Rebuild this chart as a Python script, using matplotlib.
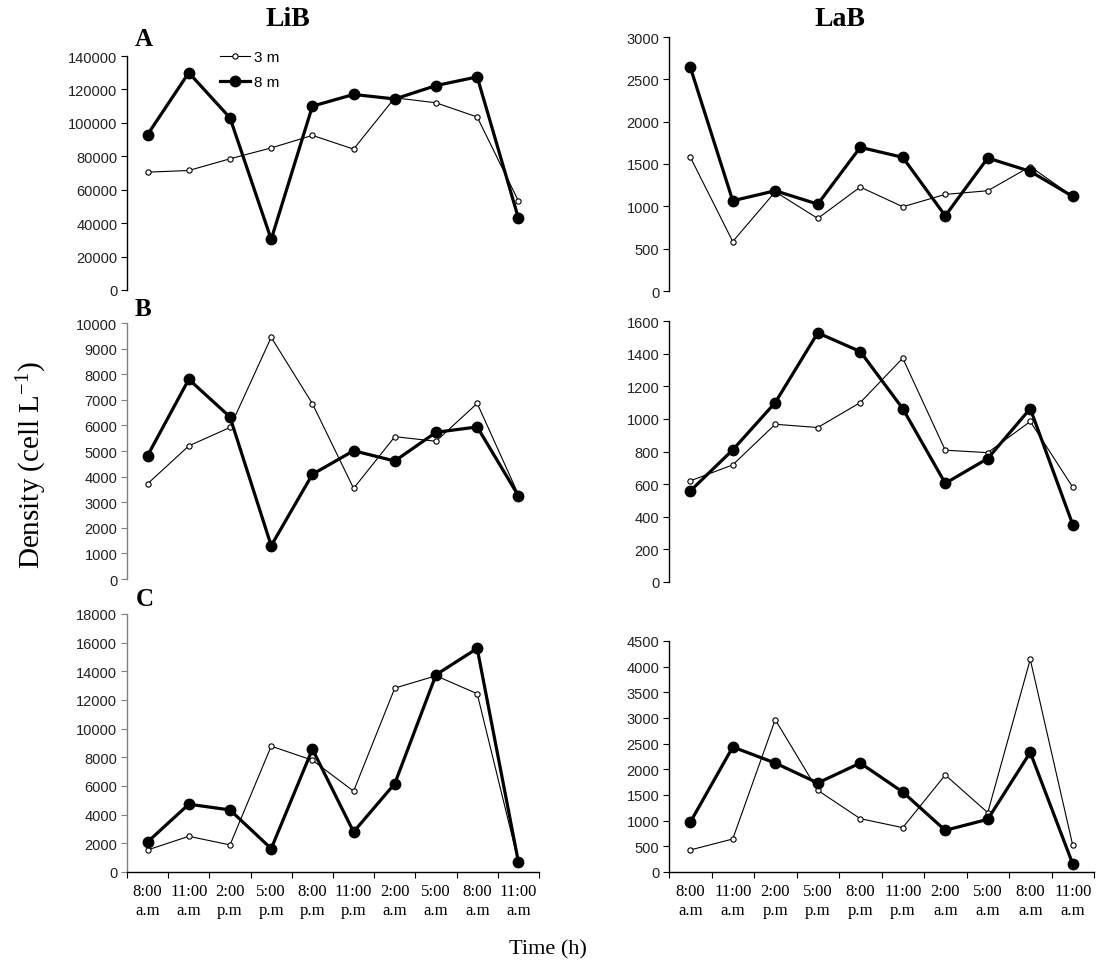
import matplotlib
matplotlib.use("Agg")
import matplotlib.pyplot as plt
import numpy as np

times = ["8:00\na.m", "11:00\na.m", "2:00\np.m", "5:00\np.m", "8:00\np.m",
         "11:00\np.m", "2:00\na.m", "5:00\na.m", "8:00\na.m", "11:00\na.m"]

# LiB
lib_A_3m = [70500, 71500, 78500, 85000, 92500, 84300, 115000, 112000, 103500, 53300]
lib_A_8m = [93000, 130000, 103000, 30300, 110000, 117000, 114300, 122300, 127500, 43000]
lib_B_3m = [3720, 5200, 5920, 9440, 6850, 3540, 5560, 5380, 6860, 3300]
lib_B_8m = [4820, 7800, 6330, 1300, 4090, 5010, 4610, 5730, 5940, 3250]
lib_C_3m = [1540, 2490, 1890, 8780, 7800, 5640, 12830, 13690, 12440, 700]
lib_C_8m = [2100, 4730, 4330, 1630, 8570, 2800, 6170, 13760, 15600, 700]

# LaB
lab_A_3m = [1583, 584, 1172, 857, 1228, 995, 1141, 1184, 1470, 1117]
lab_A_8m = [2645, 1066, 1184, 1026, 1697, 1579, 888, 1571, 1413, 1117]
lab_B_3m = [620, 718, 967, 947, 1100, 1372, 808, 793, 984, 581]
lab_B_8m = [558, 810, 1100, 1527, 1413, 1063, 605, 757, 1063, 352]
lab_C_3m = [429, 643, 2968, 1591, 1039, 864, 1890, 1156, 4143, 519]
lab_C_8m = [968, 2435, 2123, 1734, 2123, 1558, 812, 1026, 2331, 156]

sans = "Liberation Sans"
serif = "Liberation Serif"
plt.rcParams["mathtext.fontset"] = "custom"
plt.rcParams["mathtext.rm"] = serif
plt.rcParams["mathtext.it"] = serif

W, H = 1097, 978
fig = plt.figure(figsize=(W / 100, H / 100), dpi=100)

def rect(x0, x1, ytop, ybot):
    return [x0 / W, 1 - ybot / H, (x1 - x0) / W, (ybot - ytop) / H]

panels = [
    (rect(127, 539, 57, 291), lib_A_3m, lib_A_8m, 140000, 20000, False, "black"),
    (rect(669, 1094, 38, 292), lab_A_3m, lab_A_8m, 3000, 500, False, "black"),
    (rect(127, 539, 324, 580), lib_B_3m, lib_B_8m, 10000, 1000, False, "#808080"),
    (rect(669, 1094, 322, 583), lab_B_3m, lab_B_8m, 1600, 200, False, "black"),
    (rect(127, 539, 615, 873), lib_C_3m, lib_C_8m, 18000, 2000, True, "#808080"),
    (rect(669, 1094, 642, 873), lab_C_3m, lab_C_8m, 4500, 500, True, "black"),
]

x = np.arange(len(times))
axes = []
for r, d3, d8, ymax, step, bottom, sc in panels:
    ax = fig.add_axes(r)
    axes.append(ax)
    l3, = ax.plot(x, d3, color="black", lw=0.8, marker="o", ms=3.8,
                  mfc="white", mec="black", mew=0.8, label="3 m", zorder=3)
    l8, = ax.plot(x, d8, color="black", lw=2.3, marker="o", ms=7.5,
                  mfc="black", mec="black", label="8 m", zorder=4)
    ax.set_xlim(-0.5, 9.5)
    ax.set_ylim(0, ymax)
    yt = np.arange(0, ymax + step / 2, step)
    ax.set_yticks(yt)
    ax.set_yticklabels([f"{int(v)}" for v in yt],
                       fontfamily=sans, fontsize=10.5, color="#222222")
    ax.tick_params(axis="y", direction="out", length=4, width=0.8, pad=3, color=sc)
    for s in ["top", "right"]:
        ax.spines[s].set_visible(False)
    ax.spines["left"].set_color(sc)
    ax.spines["left"].set_linewidth(1.0)
    ax.set_facecolor("none")
    if bottom:
        ax.spines["bottom"].set_color("black")
        ax.spines["bottom"].set_linewidth(1.0)
        ax.set_xticks(np.arange(-0.5, 10, 1.0))
        ax.set_xticklabels([])
        ax.set_xticks(x, minor=True)
        ax.set_xticklabels(times, minor=True, fontfamily=serif, fontsize=12)
        ax.tick_params(axis="x", which="major", direction="out", length=4, width=0.8)
        ax.tick_params(axis="x", which="minor", length=0, pad=8)
    else:
        ax.spines["bottom"].set_visible(False)
        ax.set_xticks([])

axes[0].legend(handles=[l3, l8], loc="upper left", bbox_to_anchor=(0.21, 1.052),
               frameon=False, prop={"family": sans, "size": 11},
               handlelength=2.0, handletextpad=0.25, labelspacing=0.75,
               borderaxespad=0)

fig.text(288 / W, 1 - 20 / H, "LiB", fontfamily=serif, fontweight="bold",
         fontsize=20, ha="center", va="center")
fig.text(840 / W, 1 - 20 / H, "LaB", fontfamily=serif, fontweight="bold",
         fontsize=20, ha="center", va="center")
for lab, xx, yy in [("A", 144, 40), ("B", 143, 310), ("C", 145, 600)]:
    fig.text(xx / W, 1 - yy / H, lab, fontfamily=serif, fontweight="bold",
             fontsize=18, ha="center", va="center")

fig.text(548 / W, 1 - 950 / H, "Time (h)", fontfamily=serif, fontsize=16,
         ha="center", va="center")
fig.text(32 / W, 1 - 465 / H, r"Density (cell L$^{\mathregular{ -1}}$)",
         fontfamily=serif, fontsize=21, rotation=90, ha="center", va="center")

fig.savefig("out.png", dpi=100, facecolor="white")
